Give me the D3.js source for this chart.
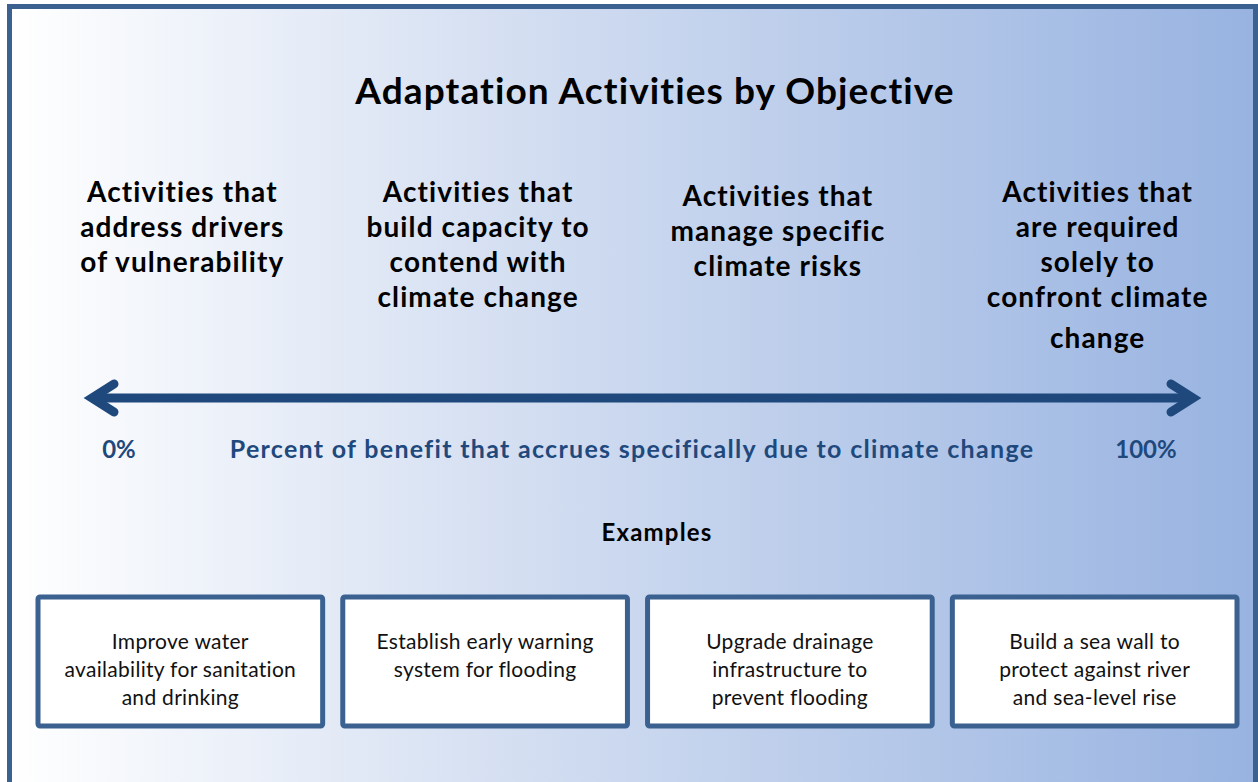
<!DOCTYPE html>
<html>
<head>
<meta charset="utf-8">
<script src="https://cdn.jsdelivr.net/npm/d3@7"></script>
<style>
  html, body { margin: 0; padding: 0; background: #fff; }
  svg { display: block; font-family: Lato, "Open Sans", sans-serif; }
</style>
</head>
<body>
<div id="chart"></div>
<script>
var title = "Adaptation Activities by Objective";
var objectives = [
  ["Activities that", "address drivers", "of vulnerability"],
  ["Activities that", "build capacity to", "contend with", "climate change"],
  ["Activities that", "manage specific", "climate risks"],
  ["Activities that", "are required", "solely to", "confront climate", "change"]
];
var axisLabels = ["0%", "100%"];
var axisDomain = [0, 100];
var axisTitle = "Percent of benefit that accrues specifically due to climate change";
var examplesTitle = "Examples";
var examples = [
  ["Improve water", "availability for sanitation", "and drinking"],
  ["Establish early warning", "system for flooding"],
  ["Upgrade drainage", "infrastructure to", "prevent flooding"],
  ["Build a sea wall to", "protect against river", "and sea-level rise"]
];

var width = 1258, height = 782;
var navy = "#1f497d", frame = "#3a6190";

var svg = d3.select("#chart").append("svg")
  .attr("width", width)
  .attr("height", height);

var grad = svg.append("defs").append("linearGradient").attr("id", "bg")
  .attr("x1", "0%").attr("x2", "100%").attr("y1", "0%").attr("y2", "0%");
grad.append("stop").attr("offset", "0%").attr("stop-color", "#ffffff");
grad.append("stop").attr("offset", "45%").attr("stop-color", "#cfdbf0");
grad.append("stop").attr("offset", "100%").attr("stop-color", "#98b3e1");

// panel
svg.append("rect")
  .attr("x", 9.5).attr("y", 6.5)
  .attr("width", 1246).attr("height", 800)
  .attr("fill", "url(#bg)")
  .attr("stroke", frame)
  .attr("stroke-width", 5);

svg.append("text")
  .attr("x", 655).attr("y", 104)
  .attr("text-anchor", "middle")
  .attr("font-size", 37).attr("font-weight", "bold")
  .attr("letter-spacing", 1.1)
  .attr("fill", "#000")
  .text(title);

// columns
var band = d3.scaleBand()
  .domain(d3.range(examples.length))
  .range([38, 1237])
  .paddingInner(0.066);

// small nudges so headings sit where the original put them
var headShift = [2, -7, -12, 3];
var headDy = [0, 0, 4, 0];

var heads = svg.append("g").selectAll("text")
  .data(objectives)
  .join("text")
  .attr("text-anchor", "middle")
  .attr("font-size", 28).attr("font-weight", "bold")
  .attr("letter-spacing", 1.1)
  .attr("fill", "#000")
  .attr("transform", function (d, i) {
    return "translate(" + (band(i) + band.bandwidth() / 2 + headShift[i]) + "," + headDy[i] + ")";
  });
heads.selectAll("tspan")
  .data(function (d) { return d; })
  .join("tspan")
  .attr("x", 0)
  .attr("y", function (d, j) { return 202 + j * 35 + (j === 4 ? 6 : 0); })
  .text(function (d) { return d; });

// arrow axis
var x = d3.scaleLinear().domain(axisDomain).range([84, 1201]);
var ay = 398;
var arrow = svg.append("g")
  .attr("stroke", navy)
  .attr("stroke-width", 9)
  .attr("stroke-linecap", "round")
  .attr("stroke-linejoin", "miter")
  .attr("fill", "none");
arrow.append("line")
  .attr("x1", x(axisDomain[0]) + 8).attr("x2", x(axisDomain[1]) - 8)
  .attr("y1", ay).attr("y2", ay)
  .attr("stroke-linecap", "butt");
arrow.append("path")
  .attr("d", d3.line()([[x(0) + 30, ay - 14], [x(0) + 8, ay], [x(0) + 30, ay + 14]]));
arrow.append("path")
  .attr("d", d3.line()([[x(100) - 30, ay - 14], [x(100) - 8, ay], [x(100) - 30, ay + 14]]));

svg.append("g").selectAll("text")
  .data(axisLabels)
  .join("text")
  .attr("x", function (d, i) { return i === 0 ? x(axisDomain[0]) + 35 : x(axisDomain[1]) - 55; })
  .attr("y", 458)
  .attr("text-anchor", "middle")
  .attr("font-size", 24).attr("font-weight", "bold")
  .attr("fill", navy)
  .text(function (d) { return d; });

svg.append("text")
  .attr("x", 632).attr("y", 458)
  .attr("text-anchor", "middle")
  .attr("font-size", 25).attr("font-weight", "bold")
  .attr("letter-spacing", 1.3)
  .attr("fill", navy)
  .text(axisTitle);

svg.append("text")
  .attr("x", 657).attr("y", 541)
  .attr("text-anchor", "middle")
  .attr("font-size", 24).attr("font-weight", "bold")
  .attr("letter-spacing", 1.2)
  .attr("fill", "#000")
  .text(examplesTitle);

// example boxes
var boxes = svg.append("g").selectAll("g")
  .data(examples)
  .join("g")
  .attr("transform", function (d, i) { return "translate(" + band(i) + ",597)"; });
boxes.append("rect")
  .attr("width", band.bandwidth())
  .attr("height", 129)
  .attr("rx", 2)
  .attr("fill", "#fff")
  .attr("stroke", frame)
  .attr("stroke-width", 5);
boxes.append("text")
  .attr("text-anchor", "middle")
  .attr("font-size", 21)
  .attr("letter-spacing", 0.3)
  .attr("fill", "#111")
  .selectAll("tspan")
  .data(function (d) { return d; })
  .join("tspan")
  .attr("x", band.bandwidth() / 2)
  .attr("y", function (d, j) { return 52 + j * 28; })
  .text(function (d) { return d; });
</script>
</body>
</html>
